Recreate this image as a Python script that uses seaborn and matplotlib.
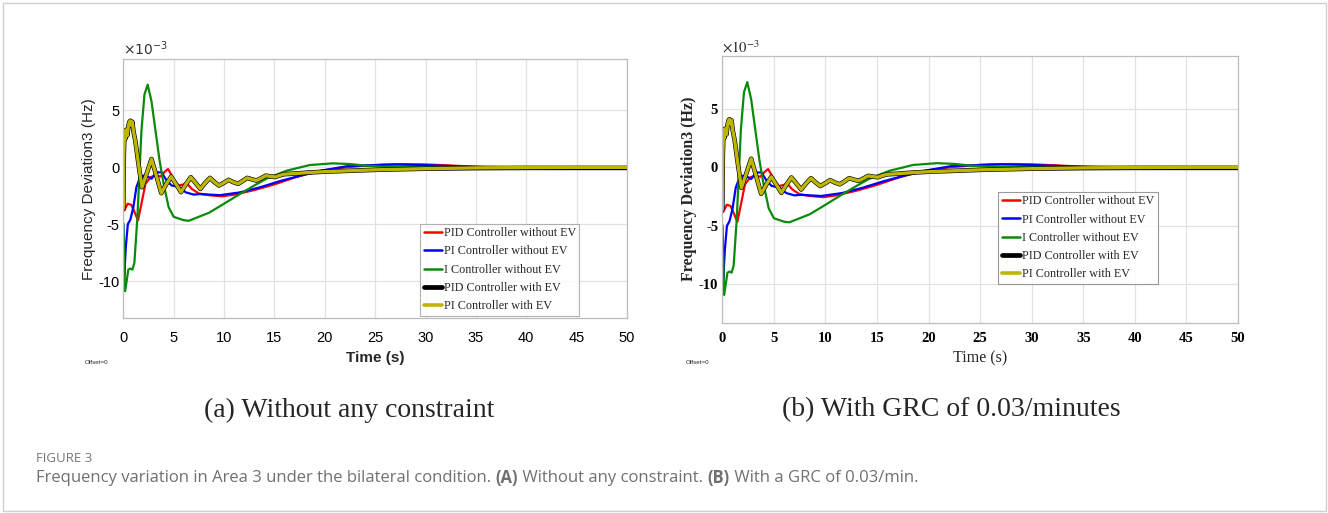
import numpy as np
import pandas as pd
import matplotlib
matplotlib.use("Agg")
import matplotlib.pyplot as plt
import seaborn as sns
from matplotlib.patches import Rectangle
from matplotlib.lines import Line2D

# ---------------- data (values in units of 1e-3 Hz) ----------------
series_names = ["PID Controller without EV", "PI Controller without EV",
                "I Controller without EV", "PID Controller with EV",
                "PI Controller with EV"]
series_colors = ["#FF0000", "#0000FF", "#0A8A0A", "#000000", "#BDB600"]

t_red = [0, 0.1, 0.43, 0.8, 1.1, 1.46, 1.8, 2.2, 2.7, 3.1, 3.7, 4.1, 4.44, 4.8,
         5.0, 5.5, 6.0, 6.3, 6.8, 7.5, 8.5, 9.8, 11, 12, 13, 14, 15, 16, 17, 18,
         19, 20, 22, 24, 26, 28, 30, 32, 35, 40, 45, 50]
y_red = [-3.6, -3.8, -3.2, -3.3, -3.9, -4.65, -3.2, -1.45, -0.87, -0.73, -0.8,
         -0.4, -0.15, -0.7, -1.16, -1.6, -1.5, -1.4, -1.9, -2.3, -2.45, -2.55,
         -2.4, -2.2, -2.0, -1.75, -1.5, -1.2, -0.9, -0.65, -0.45, -0.25, 0.0,
         0.15, 0.25, 0.28, 0.25, 0.18, 0.05, 0.0, 0.0, 0.0]

t_blue = [0, 0.1, 0.25, 0.45, 0.7, 1.0, 1.3, 1.7, 2.2, 2.8, 3.3, 3.8, 4.3, 4.8,
          5.5, 6.2, 7.0, 7.6, 9.6, 11.6, 13.6, 15.6, 17.6, 19.6, 22.2, 25, 27,
          30, 33, 36, 40, 45, 50]
y_blue = [-5.0, -9.5, -7.0, -5.0, -4.6, -3.5, -1.75, -0.8, -0.7, -1.0, -0.45,
          -0.44, -1.16, -1.6, -1.7, -2.2, -2.4, -2.35, -2.45, -2.2, -1.75, -1.2,
          -0.73, -0.3, 0.1, 0.2, 0.25, 0.2, 0.1, 0.02, 0.0, 0.0, 0.0]

t_green = [0, 0.18, 0.5, 0.7, 0.9, 1.1, 1.4, 1.8, 2.1, 2.42, 2.8, 3.2, 3.6, 4.0,
           4.5, 5.0, 6.0, 6.5, 7.5, 8.5, 10, 11.6, 13, 14.2, 16.2, 18.5, 20.8,
           22.5, 24, 26, 30, 35, 40, 45, 50]
y_green = [-4.9, -10.9, -9.0, -8.9, -9.0, -8.4, -4.4, 3.2, 6.4, 7.27, 5.8, 3.2,
           0.6, -1.45, -3.5, -4.35, -4.65, -4.7, -4.35, -4.0, -3.2, -2.33, -1.6,
           -1.0, -0.3, 0.2, 0.35, 0.29, 0.15, 0.05, 0.0, 0.0, 0.0, 0.0, 0.0]

t_ev = [0, 0.05, 0.1, 0.15, 0.2, 0.3, 0.4, 0.5, 0.6, 0.7, 0.8, 0.9, 1.0, 1.2,
        1.46, 1.85, 2.3, 2.8, 3.3, 3.77, 4.25, 4.75, 5.25, 5.73, 6.2, 6.7, 7.2,
        7.65, 8.1, 8.6, 9.05, 9.5, 10.0, 10.45, 10.9, 11.4, 11.85, 12.3, 12.75,
        13.2, 13.7, 14.15, 14.6, 15.1, 15.55, 16.0, 17.0, 18.5, 20, 22.5, 25,
        30, 35, 40, 45, 50]
y_black = [-3.6, 1.0, 2.6, 3.2, 2.5, 3.3, 2.8, 3.6, 4.0, 4.1, 3.7, 4.0, 3.2, 2.3,
           0.6, -1.75, -0.6, 0.73, -0.8, -2.27, -1.5, -0.81, -1.5, -2.18, -1.5,
           -0.87, -1.4, -1.9, -1.4, -0.93, -1.3, -1.6, -1.35, -1.1, -1.3, -1.45,
           -1.2, -0.93, -1.05, -1.16, -0.95, -0.73, -0.8, -0.85, -0.7, -0.6,
           -0.55, -0.45, -0.38, -0.3, -0.22, -0.12, -0.07, -0.05, -0.05, -0.05]
y_yellow = [-3.6, 1.0, 2.6, 3.2, 2.5, 3.3, 2.8, 3.6, 4.0, 4.1, 3.7, 4.0, 3.2, 2.3,
            0.6, -1.75, -0.6, 0.73, -0.8, -2.27, -1.5, -0.81, -1.5, -2.18, -1.5,
            -0.87, -1.4, -1.9, -1.4, -0.93, -1.3, -1.6, -1.35, -1.1, -1.3, -1.45,
            -1.2, -0.93, -1.05, -1.16, -0.95, -0.73, -0.8, -0.85, -0.7, -0.6,
            -0.55, -0.45, -0.38, -0.3, -0.22, -0.12, -0.05, -0.02, 0.0, 0.0]

x_ticks = [0, 5, 10, 15, 20, 25, 30, 35, 40, 45, 50]
y_ticks = [-10, -5, 0, 5]
y_tick_labels = ["-10", "-5", "0", "5"]

panel_titles = ["(a) Without any constraint", "(b) With GRC of 0.03/minutes"]
caption_parts = [("Frequency variation in Area 3 under the bilateral condition. ", "normal"),
                 ("(A)", "bold"), (" Without any constraint. ", "normal"),
                 ("(B)", "bold"), (" With a GRC of 0.03/min.", "normal")]

# ---------------- long table ----------------
frames = []
for name, tt, yy in zip(series_names,
                        [t_red, t_blue, t_green, t_ev, t_ev],
                        [y_red, y_blue, y_green, y_black, y_yellow]):
    frames.append(pd.DataFrame({"t": tt, "y": yy, "series": name}))
df = pd.concat(frames, ignore_index=True)

sns.set_theme(style="white")
plt.rcParams["font.family"] = ["Liberation Sans", "DejaVu Sans"]

W, H = 1328, 513
fig = plt.figure(figsize=(W / 100, H / 100), dpi=100)
fig.patch.set_facecolor("white")


def rect(l, r, t, b):
    return [l / W, 1 - b / H, (r - l) / W, (b - t) / H]


axL = fig.add_axes(rect(123.3, 627, 59.3, 318))
axR = fig.add_axes(rect(722.3, 1238, 56, 322.5))

widths = [1.6, 1.6, 1.6, 3.3, 2.4]
legend_widths = [1.8, 1.8, 1.8, 3.4, 2.6]

sans = ["Liberation Sans", "DejaVu Sans"]
serif = ["Liberation Serif", "DejaVu Serif"]
panel_fonts = [dict(family=sans, weight="normal"),
               dict(family=serif, weight="bold")]

for k, ax in enumerate([axL, axR]):
    for name, c, lw in zip(series_names, series_colors, widths):
        sub = df[df["series"] == name]
        sns.lineplot(data=sub, x="t", y="y", ax=ax, color=c, lw=lw,
                     sort=False, estimator=None, legend=False)
    ax.set_xlim(0, 50)
    ax.set_ylim(-13.25, 9.5)
    ax.set_xticks(x_ticks)
    ax.set_yticks(y_ticks)
    ax.set_yticklabels(y_tick_labels)
    ax.set_xlabel("")
    ax.set_ylabel("")
    ax.grid(True, color="#e2e2e2", lw=0.9)
    ax.set_axisbelow(True)
    for s in ax.spines.values():
        s.set_color("#bdbdbd")
        s.set_linewidth(0.9)
    f = panel_fonts[k]
    ax.tick_params(axis="both", direction="in", length=3, color="#9a9a9a",
                   labelsize=10.5, labelcolor="black")
    ax.tick_params(axis="x", pad=9 if k == 0 else 7)
    ax.tick_params(axis="y", pad=3)
    for lab in ax.get_xticklabels() + ax.get_yticklabels():
        lab.set_family(f["family"])
        lab.set_weight(f["weight"])

    handles = [Line2D([], [], color=c, lw=lw)
               for c, lw in zip(series_colors, legend_widths)]
    anchor = (0.589, 0.008) if k == 0 else (0.535, 0.144)
    leg = ax.legend(handles, series_names, loc="lower left",
                    bbox_to_anchor=anchor, frameon=True, fancybox=False,
                    prop=dict(family=serif, size=8.7),
                    handlelength=1.5, handletextpad=0.15, labelspacing=0.52,
                    borderpad=0.3, borderaxespad=0.0)
    leg.get_frame().set_edgecolor("#a0a0a0" if k == 0 else "#808080")
    leg.get_frame().set_linewidth(0.8)

# axis labels and annotations
fig.text(89 / W, 1 - 189 / H, "Frequency Deviation3 (Hz)", rotation=90,
         ha="center", va="center", fontsize=11, family=sans)
fig.text(689 / W, 1 - 189 / H, "Frequency Deviation3 (Hz)", rotation=90,
         ha="center", va="center", fontsize=11.5, weight="bold", family=serif)

fig.text(375 / W, 1 - 358 / H, "Time (s)", ha="center", va="center",
         fontsize=11, weight="bold", family=sans)
fig.text(980 / W, 1 - 358 / H, "Time (s)", ha="center", va="center",
         fontsize=11.5, family=serif)

fig.text(123 / W, 1 - 55 / H, r"$\times10^{-3}$", ha="left", va="baseline",
         fontsize=10, math_fontfamily="dejavusans", color="#333333")
fig.text(722 / W, 1 - 53 / H, r"$\times10^{-3}$", ha="left", va="baseline",
         fontsize=10.5, math_fontfamily="stix", color="#222222")

fig.text(85 / W, 1 - 362 / H, "Offset=0", fontsize=4.5, va="center", family=sans)
fig.text(686 / W, 1 - 362 / H, "Offset=0", fontsize=4.5, va="center", family=sans)

fig.text(349.5 / W, 1 - 410 / H, panel_titles[0], ha="center", va="center",
         fontsize=20, family=serif)
fig.text(951 / W, 1 - 410 / H, panel_titles[1], ha="center", va="center",
         fontsize=20, family=serif)

fig.text(36 / W, 1 - 458 / H, "FIGURE 3", ha="left", va="center",
         fontsize=9.5, color="#777777", family=["Open Sans", "DejaVu Sans"])

# caption with bold segments, placed piece after piece
renderer = fig.canvas.get_renderer()
x_cur = 36
for txt, wt in caption_parts:
    tx = fig.text(x_cur / W, 1 - 478 / H, txt, ha="left", va="center",
                  fontsize=12, color="#707070", weight=wt,
                  family=["Open Sans", "DejaVu Sans"])
    bb = tx.get_window_extent(renderer=renderer)
    x_cur += bb.width

fig.patches.append(Rectangle((2.5 / W, 2.5 / H), (W - 5) / W, (H - 5) / H,
                             transform=fig.transFigure, fill=False,
                             edgecolor="#cfcfcf", lw=1.0))

fig.savefig("out.png", dpi=100, facecolor="white")
